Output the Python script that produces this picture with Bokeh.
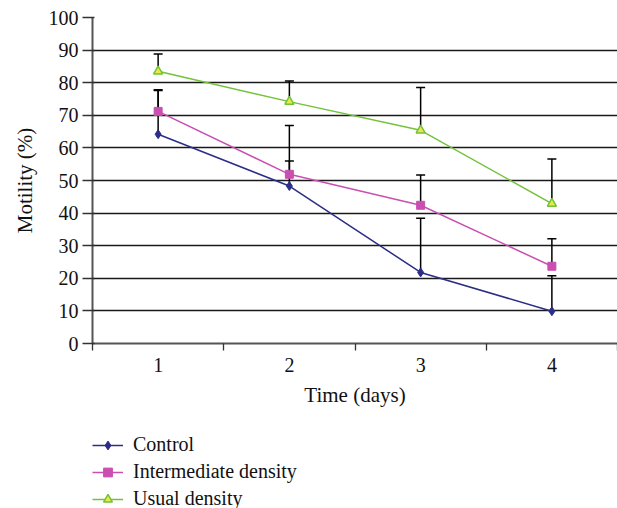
from bokeh.plotting import figure
from bokeh.layouts import column
from bokeh.models import (ColumnDataSource, Range1d, FixedTicker, Whisker, TeeHead,
                          Legend, LegendItem)
from bokeh.embed import file_html
from bokeh.resources import INLINE

days = [1, 2, 3, 4]
day_labels = ["1", "2", "3", "4"]
series_names = ["Control", "Intermediate density", "Usual density"]
control = [64.2, 48.3, 21.8, 9.9]
control_top = [77.6, 56.0, 38.4, 20.8]
intermediate = [71.2, 51.9, 42.4, 23.7]
intermediate_top = [77.8, 66.9, 51.7, 32.1]
usual = [83.5, 74.2, 65.4, 42.9]
usual_top = [88.8, 80.5, 78.5, 56.6]

FONT = "Liberation Serif"
NAVY = "#2b2d86"
MAG = "#c94fb0"
GREEN = "#72c23a"
TRI_FILL = "#e8e84a"

p = figure(width=617, height=430, output_backend="svg", toolbar_location=None,
           x_range=Range1d(0.5, 4.5), y_range=Range1d(0, 100),
           min_border_left=92, min_border_right=0, min_border_top=17,
           min_border_bottom=87)
p.outline_line_color = None

# grid
p.xgrid.grid_line_color = None
p.ygrid.grid_line_color = "#1a1a1a"
p.ygrid.grid_line_width = 1.3
p.ygrid.ticker = FixedTicker(ticks=list(range(10, 101, 10)))

# axes
p.yaxis.ticker = FixedTicker(ticks=list(range(0, 101, 10)))
p.yaxis.axis_line_color = "#555555"
p.yaxis.axis_line_width = 2
p.yaxis.major_tick_line_color = "#333333"
p.yaxis.major_tick_line_width = 1.3
p.yaxis.major_tick_out = 10
p.yaxis.major_tick_in = 2
p.yaxis.minor_tick_line_color = None
p.yaxis.major_label_text_font = FONT
p.yaxis.major_label_text_font_size = "20px"
p.yaxis.major_label_text_color = "#111111"
p.yaxis.major_label_standoff = 4
p.yaxis.axis_label = "Motility (%)"
p.yaxis.axis_label_text_font = FONT
p.yaxis.axis_label_text_font_size = "21px"
p.yaxis.axis_label_text_font_style = "normal"
p.yaxis.axis_label_text_color = "#111111"
p.yaxis.axis_label_standoff = 9

p.xaxis.ticker = FixedTicker(ticks=days, minor_ticks=[0.5, 1.5, 2.5, 3.5, 4.5])
p.xaxis.major_label_overrides = {d: l for d, l in zip(days, day_labels)}
p.xaxis.major_tick_line_color = None
p.xaxis.minor_tick_line_color = "#333333"
p.xaxis.minor_tick_line_width = 1.3
p.xaxis.minor_tick_out = 7
p.xaxis.minor_tick_in = 0
p.xaxis.axis_line_color = "#555555"
p.xaxis.axis_line_width = 2
p.xaxis.major_label_text_font = FONT
p.xaxis.major_label_text_font_size = "20px"
p.xaxis.major_label_text_color = "#111111"
p.xaxis.major_label_standoff = 7
p.xaxis.axis_label = "Time (days)"
p.xaxis.axis_label_text_font = FONT
p.xaxis.axis_label_text_font_size = "21px"
p.xaxis.axis_label_text_font_style = "normal"
p.xaxis.axis_label_text_color = "#111111"
p.xaxis.axis_label_standoff = 8

# error bars (upper only)
for vals, tops in [(control, control_top), (intermediate, intermediate_top), (usual, usual_top)]:
    src = ColumnDataSource(dict(x=days, lo=vals, hi=tops))
    w = Whisker(source=src, base="x", lower="lo", upper="hi", dimension="height",
                line_color="black", line_width=1.5, lower_head=None,
                upper_head=TeeHead(size=9, line_color="black", line_width=1.5))
    p.add_layout(w)

styles = [(NAVY, "diamond", 9, NAVY, 1), (MAG, "square", 8, MAG, 1),
          (GREEN, "triangle", 9, TRI_FILL, 1.5)]
for vals, (col, mk, sz, fill, lw) in zip([control, intermediate, usual], styles):
    p.line(days, vals, line_color=col, line_width=1.5)
    p.scatter(days, vals, marker=mk, size=sz, fill_color=fill, line_color=col, line_width=lw)

# legend panel (separate figure below the chart); its proxy renderers are hidden
lp = figure(width=617, height=78, output_backend="svg", toolbar_location=None,
            min_border=0, x_axis_type=None, y_axis_type=None,
            x_range=Range1d(0.5, 4.5), y_range=Range1d(0, 100))
lp.outline_line_color = None
lp.xgrid.grid_line_color = None
lp.ygrid.grid_line_color = None
items = []
for name, vals, (col, mk, sz, fill, lw) in zip(series_names, [control, intermediate, usual], styles):
    r1 = lp.line(days, vals, line_color=col, line_width=1.5, visible=False)
    r2 = lp.scatter(days, vals, marker=mk, size=sz, fill_color=fill, line_color=col,
                    line_width=lw, visible=False)
    items.append(LegendItem(label=name, renderers=[r1, r2]))

legend = Legend(items=items, location=(0, -2))
legend.border_line_color = None
legend.background_fill_alpha = 0
legend.padding = 0
legend.margin = 0
legend.spacing = 4
legend.glyph_width = 31
legend.glyph_height = 22
legend.label_height = 22
legend.label_standoff = 10
legend.label_text_font = FONT
legend.label_text_font_size = "20px"
legend.label_text_color = "#111111"
legend.click_policy = "none"
lp.add_layout(legend, "center")

layout = column(p, lp, spacing=0)
open("out.html", "w").write(file_html(layout, INLINE))
